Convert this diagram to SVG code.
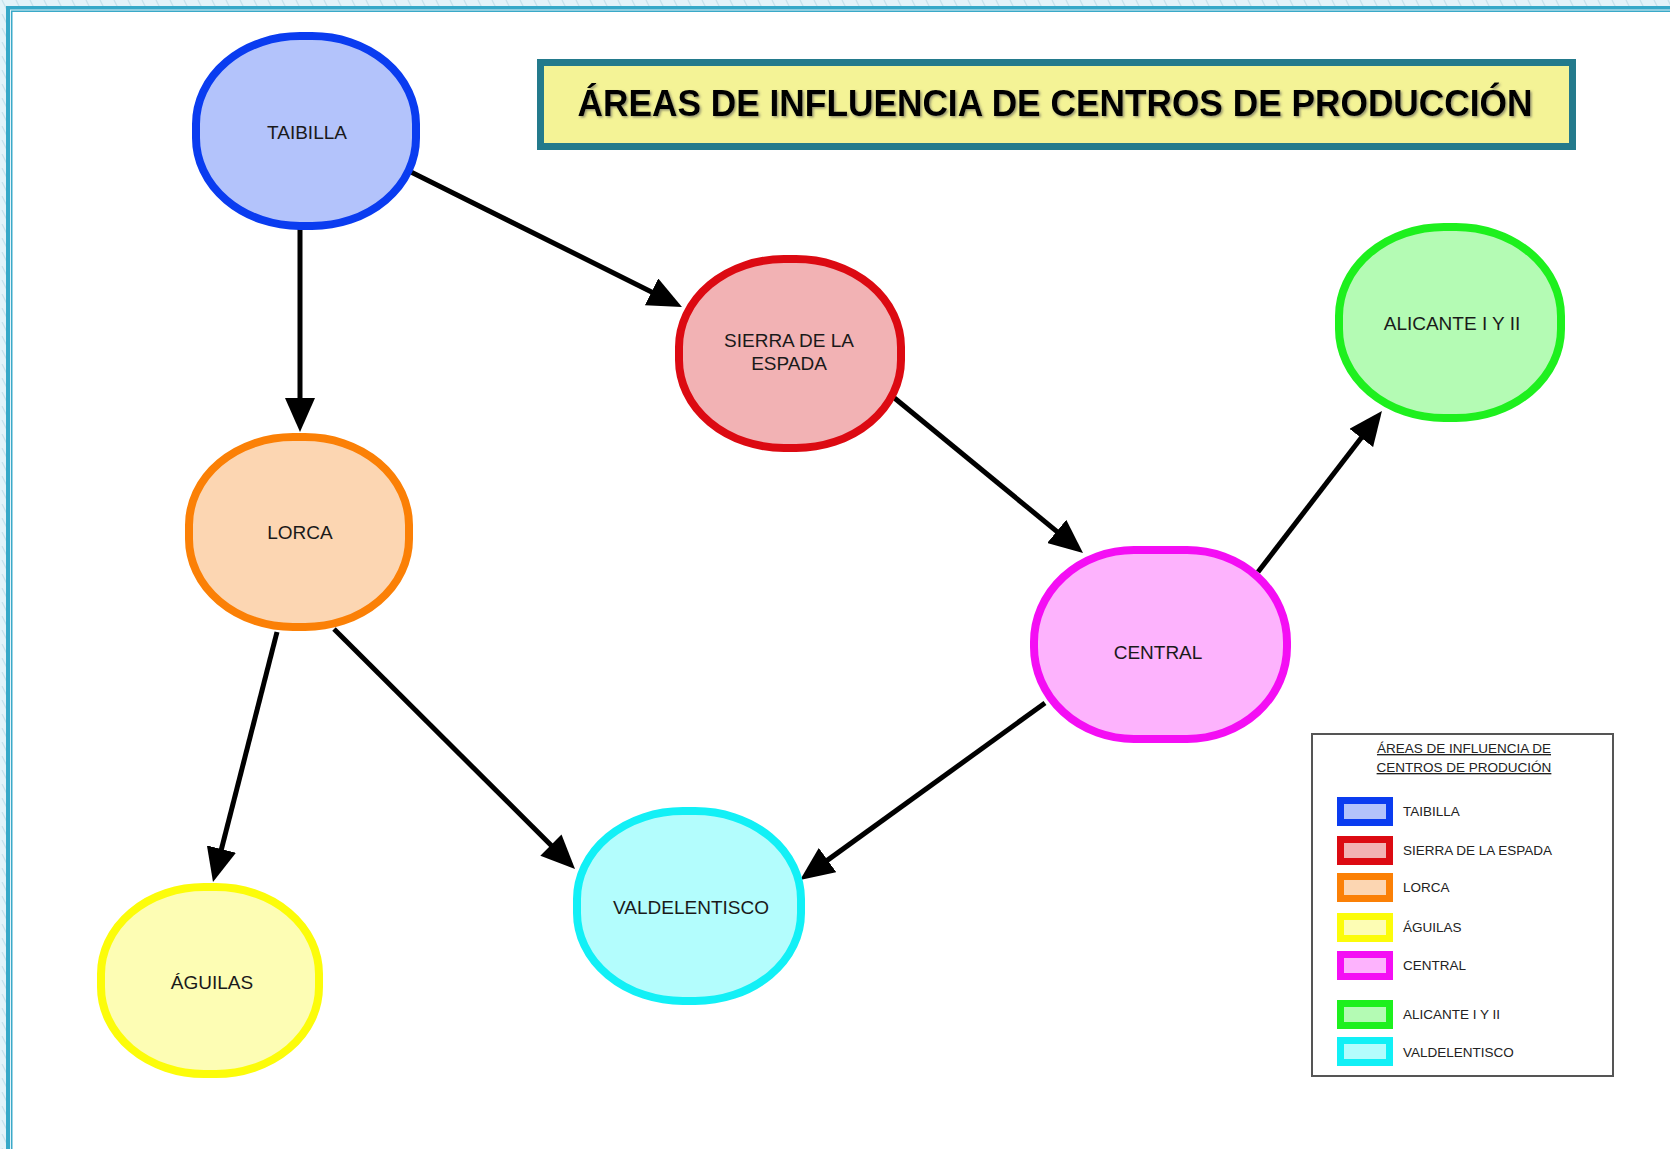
<svg xmlns="http://www.w3.org/2000/svg" width="1670" height="1149" viewBox="0 0 1670 1149">
<defs>
<pattern id="hatch" width="14" height="14" patternUnits="userSpaceOnUse">
<rect width="14" height="14" fill="#e2f3f9"/>
<path d="M2,0 L9,14" stroke="#c6e2ec" stroke-width="1.2"/>
</pattern>
<marker id="arrow" viewBox="0 0 34 30" refX="9" refY="15" markerWidth="34" markerHeight="30" markerUnits="userSpaceOnUse" orient="auto">
<path d="M0,0 L34,15 L0,30 Z" fill="#000"/>
</marker>
<filter id="shadow" x="-5%" y="-20%" width="110%" height="140%">
<feDropShadow dx="1.5" dy="1.5" stdDeviation="1" flood-color="#555" flood-opacity="0.6"/>
</filter>
</defs>
<style>
.node rect { stroke-width: 8; }
.lbl { font-family: "Liberation Sans", Arial, sans-serif; font-size: 19px; fill: #1a1a1a; text-anchor: middle; }
.leg { font-family: "Liberation Sans", Arial, sans-serif; font-size: 13.5px; fill: #222; }
.sw { stroke-width: 7; }
.conn line { stroke: #000; stroke-width: 5; marker-end: url(#arrow); }
</style>

<!-- background and frame -->
<rect x="0" y="0" width="1670" height="1149" fill="url(#hatch)"/>
<rect x="6" y="6" width="1664" height="1143" fill="#35a8c8"/>
<rect x="10" y="9.5" width="1660" height="1139.5" fill="#e2f3f9"/>
<rect x="11" y="10.5" width="1659" height="1138.5" fill="#3aa9c8"/>
<rect x="12.5" y="12" width="1657.5" height="1137" fill="#ffffff"/>

<!-- title -->
<g id="title">
<rect x="540.5" y="62.5" width="1032" height="84" fill="#f4f396" stroke="#237a8c" stroke-width="7"/>
<text x="1055" y="116" font-family="Liberation Sans, Arial, sans-serif" font-size="37" font-weight="bold" fill="#000" text-anchor="middle" textLength="955" lengthAdjust="spacingAndGlyphs" filter="url(#shadow)">ÁREAS DE INFLUENCIA DE CENTROS DE PRODUCCIÓN</text>
</g>

<!-- connectors -->
<g id="connectors" class="conn">
<line x1="300" y1="229" x2="300" y2="407"/>
<line x1="411" y1="172" x2="659.6" y2="295.9"/>
<line x1="892" y1="396" x2="1063.7" y2="537.1"/>
<line x1="1258" y1="572" x2="1366.7" y2="430.8"/>
<line x1="1045" y1="703" x2="820.3" y2="865.4"/>
<line x1="334" y1="629" x2="557.3" y2="851.4"/>
<line x1="277" y1="632" x2="219.2" y2="857.8"/>
</g>

<!-- nodes -->
<g id="taibilla" class="node">
<rect x="196" y="36" width="220" height="190" rx="104" ry="88" fill="#b3c3fb" stroke="#0a3cf0"/>
<text class="lbl" x="307" y="139">TAIBILLA</text>
</g>
<g id="sierra" class="node">
<rect x="679" y="259" width="222" height="189" rx="105" ry="88" fill="#f2b2b4" stroke="#dc0a12"/>
<text class="lbl" x="789" y="347">SIERRA DE LA</text>
<text class="lbl" x="789" y="370">ESPADA</text>
</g>
<g id="lorca" class="node">
<rect x="189" y="437" width="220" height="190" rx="104" ry="88" fill="#fcd6b2" stroke="#fb8006"/>
<text class="lbl" x="300" y="539">LORCA</text>
</g>
<g id="alicante" class="node">
<rect x="1339" y="227" width="222" height="191" rx="105" ry="89" fill="#b4fbb4" stroke="#1ef01e"/>
<text class="lbl" x="1452" y="330">ALICANTE I Y II</text>
</g>
<g id="central" class="node">
<rect x="1034" y="550" width="253" height="189" rx="100" ry="92" fill="#fdb3fd" stroke="#f40ef4"/>
<text class="lbl" x="1158" y="659">CENTRAL</text>
</g>
<g id="valdelentisco" class="node">
<rect x="577" y="811" width="224" height="190" rx="106" ry="88" fill="#b3fdfd" stroke="#12f0f6"/>
<text class="lbl" x="691" y="914">VALDELENTISCO</text>
</g>
<g id="aguilas" class="node">
<rect x="101" y="887" width="218" height="187" rx="103" ry="87" fill="#fdfdb4" stroke="#fcfc0a"/>
<text class="lbl" x="212" y="989">ÁGUILAS</text>
</g>

<!-- legend -->
<g id="legend">
<rect x="1312" y="734" width="301" height="342" fill="#fff" stroke="#555" stroke-width="2"/>
<text class="leg" x="1464" y="753" text-anchor="middle" text-decoration="underline">ÁREAS DE INFLUENCIA DE</text>
<text class="leg" x="1464" y="772" text-anchor="middle" text-decoration="underline">CENTROS DE PRODUCIÓN</text>
<rect class="sw" x="1340.5" y="800.5" width="49" height="22" fill="#b3c3fb" stroke="#0a3cf0"/>
<text class="leg" x="1403" y="816">TAIBILLA</text>
<rect class="sw" x="1340.5" y="839.5" width="49" height="22" fill="#f2b2b4" stroke="#dc0a12"/>
<text class="leg" x="1403" y="855">SIERRA DE LA ESPADA</text>
<rect class="sw" x="1340.5" y="876.5" width="49" height="22" fill="#fcd6b2" stroke="#fb8006"/>
<text class="leg" x="1403" y="892">LORCA</text>
<rect class="sw" x="1340.5" y="916.5" width="49" height="22" fill="#fdfdb4" stroke="#fcfc0a"/>
<text class="leg" x="1403" y="932">ÁGUILAS</text>
<rect class="sw" x="1340.5" y="954.5" width="49" height="22" fill="#fdb3fd" stroke="#f40ef4"/>
<text class="leg" x="1403" y="970">CENTRAL</text>
<rect class="sw" x="1340.5" y="1003.5" width="49" height="22" fill="#b4fbb4" stroke="#1ef01e"/>
<text class="leg" x="1403" y="1019">ALICANTE I Y II</text>
<rect class="sw" x="1340.5" y="1040.5" width="49" height="22" fill="#b3fdfd" stroke="#12f0f6"/>
<text class="leg" x="1403" y="1057">VALDELENTISCO</text>
</g>
</svg>
